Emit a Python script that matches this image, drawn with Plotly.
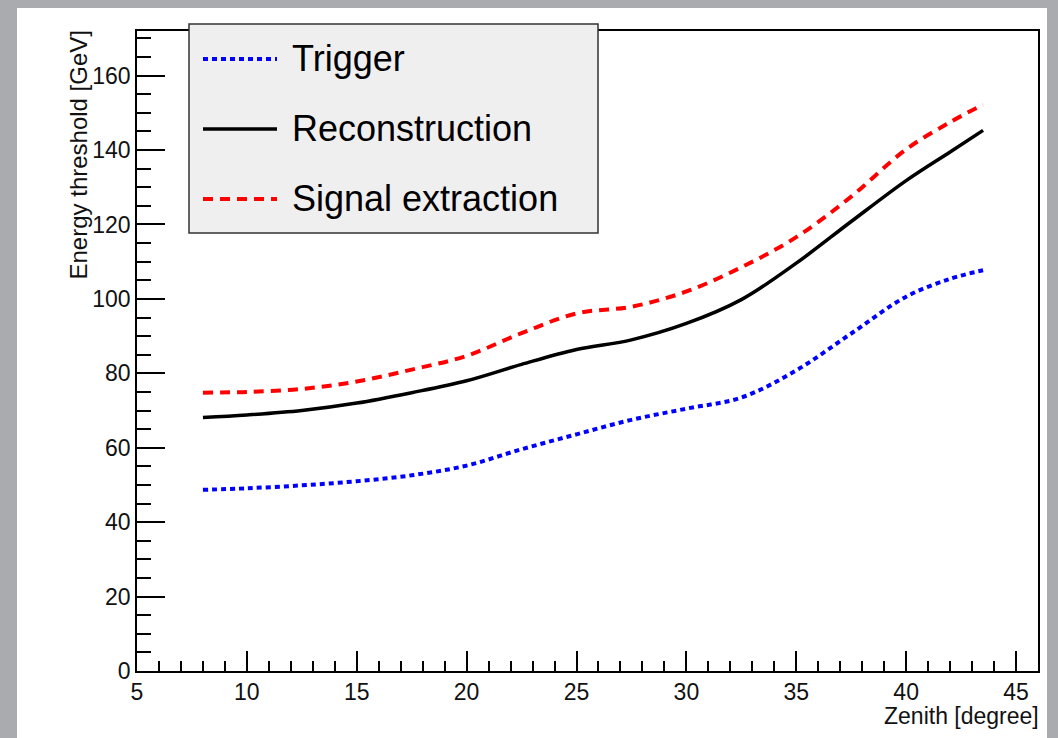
import plotly.graph_objects as go

zenith = [8, 10, 12.5, 15, 17.5, 20, 22.5, 25, 27.5, 30, 32.5, 35, 37.5, 40, 42, 43.5]
trigger = [48.7, 49.1, 49.9, 51.0, 52.6, 55.2, 59.6, 63.6, 67.5, 70.5, 73.5, 80.8, 90.7, 100.6, 105.4, 107.7]
reconstruction = [68.1, 68.8, 70.0, 72.0, 74.8, 78.0, 82.4, 86.4, 89.0, 93.4, 99.8, 109.6, 120.8, 131.8, 139.5, 145.3]
signal_extraction = [74.8, 75.0, 75.8, 77.8, 81.0, 84.7, 90.8, 96.1, 97.9, 102.0, 108.5, 116.6, 127.5, 140.2, 147.5, 152.2]

series_names = ["Trigger", "Reconstruction", "Signal extraction"]
x_title = "Zenith [degree]"
y_title = "Energy threshold [GeV]"

FONT = "Liberation Sans, Arial, Helvetica, sans-serif"
styles = [
    dict(color="#0000ff", width=4, dash="5px,4px"),
    dict(color="#000000", width=3.5, dash="solid"),
    dict(color="#ff0000", width=4, dash="10px,7px"),
]

fig = go.Figure()
for name, vals, st in zip(series_names, [trigger, reconstruction, signal_extraction], styles):
    fig.add_trace(go.Scatter(x=zenith, y=vals, mode="lines", name=name,
                             line=dict(color=st["color"], width=st["width"], dash=st["dash"],
                                       shape="spline", smoothing=1.0),
                             showlegend=False))

W, H = 1058, 738
L, R, T, B = 137, 1038, 31, 671
pw, ph = R - L, B - T

def px(x):
    return (x - L) / pw

def py(y):
    return (B - y) / ph

shapes = [
    # white canvas over gray backdrop
    dict(type="rect", xref="paper", yref="paper", x0=px(17), x1=px(1047), y0=py(738), y1=py(8),
         fillcolor="white", line=dict(width=0), layer="below"),
    # legend box
    dict(type="rect", xref="paper", yref="paper", x0=px(189), x1=px(598), y0=py(233), y1=py(24),
         fillcolor="#efefef", line=dict(color="#333333", width=1.5), layer="above"),
]
annotations = []
rows = [59, 129, 199]
for name, st, ry in zip(series_names, styles, rows):
    shapes.append(dict(type="line", xref="paper", yref="paper", x0=px(203), x1=px(277),
                       y0=py(ry), y1=py(ry), layer="above",
                       line=dict(color=st["color"], width=st["width"], dash=st["dash"])))
    annotations.append(dict(text=name, xref="paper", yref="paper", x=px(290), y=py(ry - 1),
                            xanchor="left", yanchor="middle", showarrow=False,
                            font=dict(family=FONT, size=36, color="#000000")))

annotations.append(dict(text=x_title, xref="paper", yref="paper", x=px(1041), y=py(716),
                        xanchor="right", yanchor="middle", showarrow=False,
                        font=dict(family=FONT, size=23, color="#111111")))
annotations.append(dict(text=y_title, xref="paper", yref="paper", x=px(78), y=py(29),
                        xanchor="center", yanchor="top", showarrow=False, textangle=-90,
                        font=dict(family=FONT, size=24, color="#111111")))

axis_common = dict(showline=True, linecolor="#000000", linewidth=1.5, mirror=True,
                   ticks="inside", tickcolor="#000000", tickwidth=1.5,
                   showgrid=False, zeroline=False,
                   tickfont=dict(family=FONT, size=23, color="#111111"))

fig.update_layout(
    width=W, height=H,
    margin=dict(l=L, r=W - R, t=T, b=H - B),
    paper_bgcolor="#a9abae",
    plot_bgcolor="white",
    showlegend=False,
    shapes=shapes,
    annotations=annotations,
    xaxis=dict(range=[5, 46], dtick=5, tick0=5, ticklen=20,
               minor=dict(dtick=1, ticklen=10, ticks="inside", tickcolor="#000000", tickwidth=1.5),
               **axis_common),
    yaxis=dict(range=[0, 172], dtick=20, tick0=0, ticklen=28,
               minor=dict(dtick=5, ticklen=14, ticks="inside", tickcolor="#000000", tickwidth=1.5),
               **axis_common),
)

fig.write_html("out.html")
